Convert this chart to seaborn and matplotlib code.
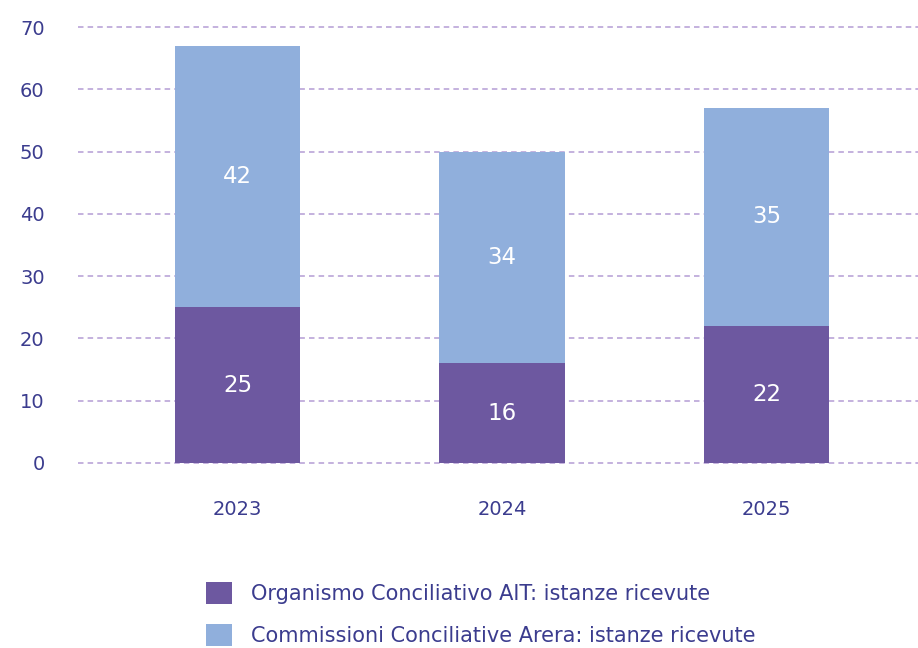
import matplotlib
matplotlib.use("Agg")
import matplotlib.pyplot as plt
from matplotlib.patches import Patch
import seaborn as sns
import pandas as pd

years = ["2023", "2024", "2025"]
ait = [25, 16, 22]
arera = [42, 34, 35]
series_names = ["Organismo Conciliativo AIT: istanze ricevute",
                "Commissioni Conciliative Arera: istanze ricevute"]
y_ticks = [0, 10, 20, 30, 40, 50, 60, 70]

col_ait = "#6d58a0"
col_arera = "#90afdc"
text_col = "#3b3c8e"
grid_col = "#b49cd4"

sns.set_theme(style="white")
plt.rcParams["font.family"] = ["DejaVu Sans"]

df = pd.DataFrame({"anno": years, "ait": ait, "arera": arera})
df["totale"] = df["ait"] + df["arera"]

fig = plt.figure(figsize=(9.18, 6.48), dpi=100)
ax = fig.add_axes([0.085, 0.2759, 0.915, 0.692])

for y in y_ticks:
    ax.axhline(y, color=grid_col, lw=1.1, ls=(0, (3.6, 2.7)), zorder=0)

sns.barplot(data=df, x="anno", y="totale", color=col_arera, width=0.473,
            saturation=1, linewidth=0, edgecolor="none", ax=ax, zorder=2)
sns.barplot(data=df, x="anno", y="ait", color=col_ait, width=0.473,
            saturation=1, linewidth=0, edgecolor="none", ax=ax, zorder=3)

for i, (a, b) in enumerate(zip(ait, arera)):
    ax.text(i, a / 2, str(a), ha="center", va="center", color="white",
            fontsize=16.5, zorder=4)
    ax.text(i, a + b / 2, str(b), ha="center", va="center", color="white",
            fontsize=16.5, zorder=4)

ax.set_xlim(-0.603, 2.573)
ax.set_ylim(-1, 71)
ax.set_yticks(y_ticks)
ax.set_xlabel("")
ax.set_ylabel("")
ax.tick_params(axis="y", length=0, pad=24, labelsize=14, labelcolor=text_col)
ax.tick_params(axis="x", length=0, pad=22, labelsize=14, labelcolor=text_col)
for s in ax.spines.values():
    s.set_visible(False)

handles = [Patch(facecolor=col_ait, edgecolor="none"),
           Patch(facecolor=col_arera, edgecolor="none")]
fig.legend(handles, series_names, loc="upper left",
           bbox_to_anchor=(0.2157, 0.114), frameon=False,
           fontsize=15, labelcolor=text_col, handlelength=1.22,
           handleheight=1.22, handletextpad=0.9, labelspacing=0.95,
           borderaxespad=0)

fig.savefig("out.png", dpi=100)
